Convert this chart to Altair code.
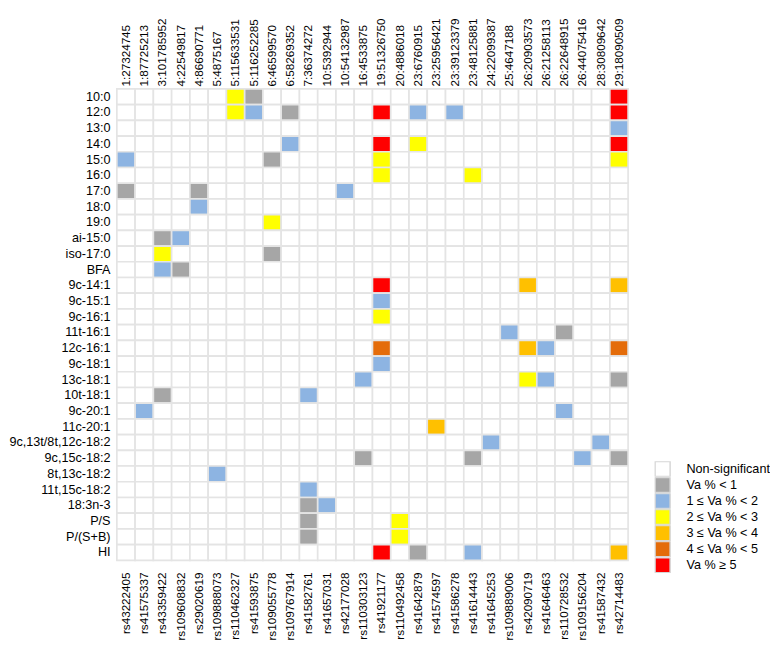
import altair as alt
import pandas as pd

traits = ["10:0", "12:0", "13:0", "14:0", "15:0", "16:0", "17:0", "18:0", "19:0",
          "ai-15:0", "iso-17:0", "BFA", "9c-14:1", "9c-15:1", "9c-16:1", "11t-16:1",
          "12c-16:1", "9c-18:1", "13c-18:1", "10t-18:1", "9c-20:1", "11c-20:1",
          "9c,13t/8t,12c-18:2", "9c,15c-18:2", "8t,13c-18:2", "11t,15c-18:2",
          "18:3n-3", "P/S", "P/(S+B)", "HI"]

positions = ["1:27324745", "1:87725213", "3:101785952", "4:22549817", "4:86690771",
             "5:4875167", "5:115633531", "5:116252285", "6:46599570", "6:58269352",
             "7:36374272", "10:5392944", "10:54132987", "16:4533875", "19:51326750",
             "20:4886018", "23:6760915", "23:25956421", "23:39123379", "23:48125881",
             "24:22099387", "25:4647188", "26:20903573", "26:21258113", "26:22648915",
             "26:44075416", "28:30809642", "29:18090509"]

snps = ["rs43222405", "rs41575337", "rs43359422", "rs109608832", "rs29020619",
        "rs109888073", "rs110462327", "rs41593875", "rs109055778", "rs109767914",
        "rs41582761", "rs41657031", "rs42177028", "rs110303123", "rs41921177",
        "rs110492458", "rs41642879", "rs41574597", "rs41586278", "rs41614443",
        "rs41645253", "rs109889006", "rs42090719", "rs41646463", "rs110728532",
        "rs109156204", "rs41587432", "rs42714483"]

classes = ["Non-significant", "Va % < 1", "1 ≤ Va % < 2", "2 ≤ Va % < 3",
           "3 ≤ Va % < 4", "4 ≤ Va % < 5", "Va % ≥ 5"]
colors = ["#FFFFFF", "#A6A6A6", "#8DB4E2", "#FFFF00", "#FFC000", "#E46C0A", "#FF0000"]

# trait -> {column index: class index}
significant = {
    "10:0": {6: 3, 7: 1, 27: 6},
    "12:0": {6: 3, 7: 2, 9: 1, 14: 6, 16: 2, 18: 2, 27: 6},
    "13:0": {27: 2},
    "14:0": {9: 2, 14: 6, 16: 3, 27: 6},
    "15:0": {0: 2, 8: 1, 14: 3, 27: 3},
    "16:0": {14: 3, 19: 3},
    "17:0": {0: 1, 4: 1, 12: 2},
    "18:0": {4: 2},
    "19:0": {8: 3},
    "ai-15:0": {2: 1, 3: 2},
    "iso-17:0": {2: 3, 8: 1},
    "BFA": {2: 2, 3: 1},
    "9c-14:1": {14: 6, 22: 4, 27: 4},
    "9c-15:1": {14: 2},
    "9c-16:1": {14: 3},
    "11t-16:1": {21: 2, 24: 1},
    "12c-16:1": {14: 5, 22: 4, 23: 2, 27: 5},
    "9c-18:1": {14: 2},
    "13c-18:1": {13: 2, 22: 3, 23: 2, 27: 1},
    "10t-18:1": {2: 1, 10: 2},
    "9c-20:1": {1: 2, 24: 2},
    "11c-20:1": {17: 4},
    "9c,13t/8t,12c-18:2": {20: 2, 26: 2},
    "9c,15c-18:2": {13: 1, 19: 1, 25: 2, 27: 1},
    "8t,13c-18:2": {5: 2},
    "11t,15c-18:2": {10: 2},
    "18:3n-3": {10: 1, 11: 2},
    "P/S": {10: 1, 15: 3},
    "P/(S+B)": {10: 1, 15: 3},
    "HI": {14: 6, 16: 1, 19: 2, 27: 4},
}

rows = []
for t in traits:
    sig = significant.get(t, {})
    for i, (p, s) in enumerate(zip(positions, snps)):
        rows.append({"trait": t, "pos": p, "snp": s, "cls": classes[sig.get(i, 0)]})
df = pd.DataFrame(rows)

FONT = "Liberation Sans"

ycode = alt.Y("trait:N", sort=traits, title=None,
              scale=alt.Scale(paddingInner=0, paddingOuter=0),
              axis=alt.Axis(orient="left", ticks=False, domain=False, labelPadding=7,
                            labelFontSize=13, labelFont=FONT, labelColor="#000000"))

cells = alt.Chart(df).mark_rect(stroke="#E4E4E4", strokeWidth=1.7).encode(
    x=alt.X("pos:N", sort=positions, title=None,
            scale=alt.Scale(paddingInner=0, paddingOuter=0),
            axis=alt.Axis(orient="top", labelAngle=270, ticks=False, domain=False,
                          labelPadding=3, labelFontSize=12, labelFont=FONT,
                          labelColor="#000000")),
    y=ycode,
    color=alt.Color("cls:N", title=None,
                    scale=alt.Scale(domain=classes, range=colors),
                    legend=alt.Legend(orient="none", legendX=553, legendY=383,
                                      symbolType="square", symbolSize=240,
                                      symbolStrokeColor="#D6D6D6", symbolStrokeWidth=1.5,
                                      symbolOpacity=1, labelFontSize=13, labelFont=FONT,
                                      labelColor="#000000", labelOffset=16,
                                      clipHeight=16, rowPadding=0.5, padding=0)),
)

bottom = alt.Chart(df).mark_rect(opacity=0).encode(
    x=alt.X("snp:N", sort=snps, title=None,
            scale=alt.Scale(paddingInner=0, paddingOuter=0),
            axis=alt.Axis(orient="bottom", labelAngle=270, ticks=False, domain=False,
                          labelPadding=12, labelFontSize=12, labelFont=FONT,
                          labelColor="#000000")),
    y=ycode,
)

chart = alt.layer(cells, bottom).resolve_scale(x="independent").properties(
    width=526, height=485, padding=0
).configure_view(strokeWidth=0)

chart.save("out.html", embed_options={"renderer": "svg", "actions": False})
